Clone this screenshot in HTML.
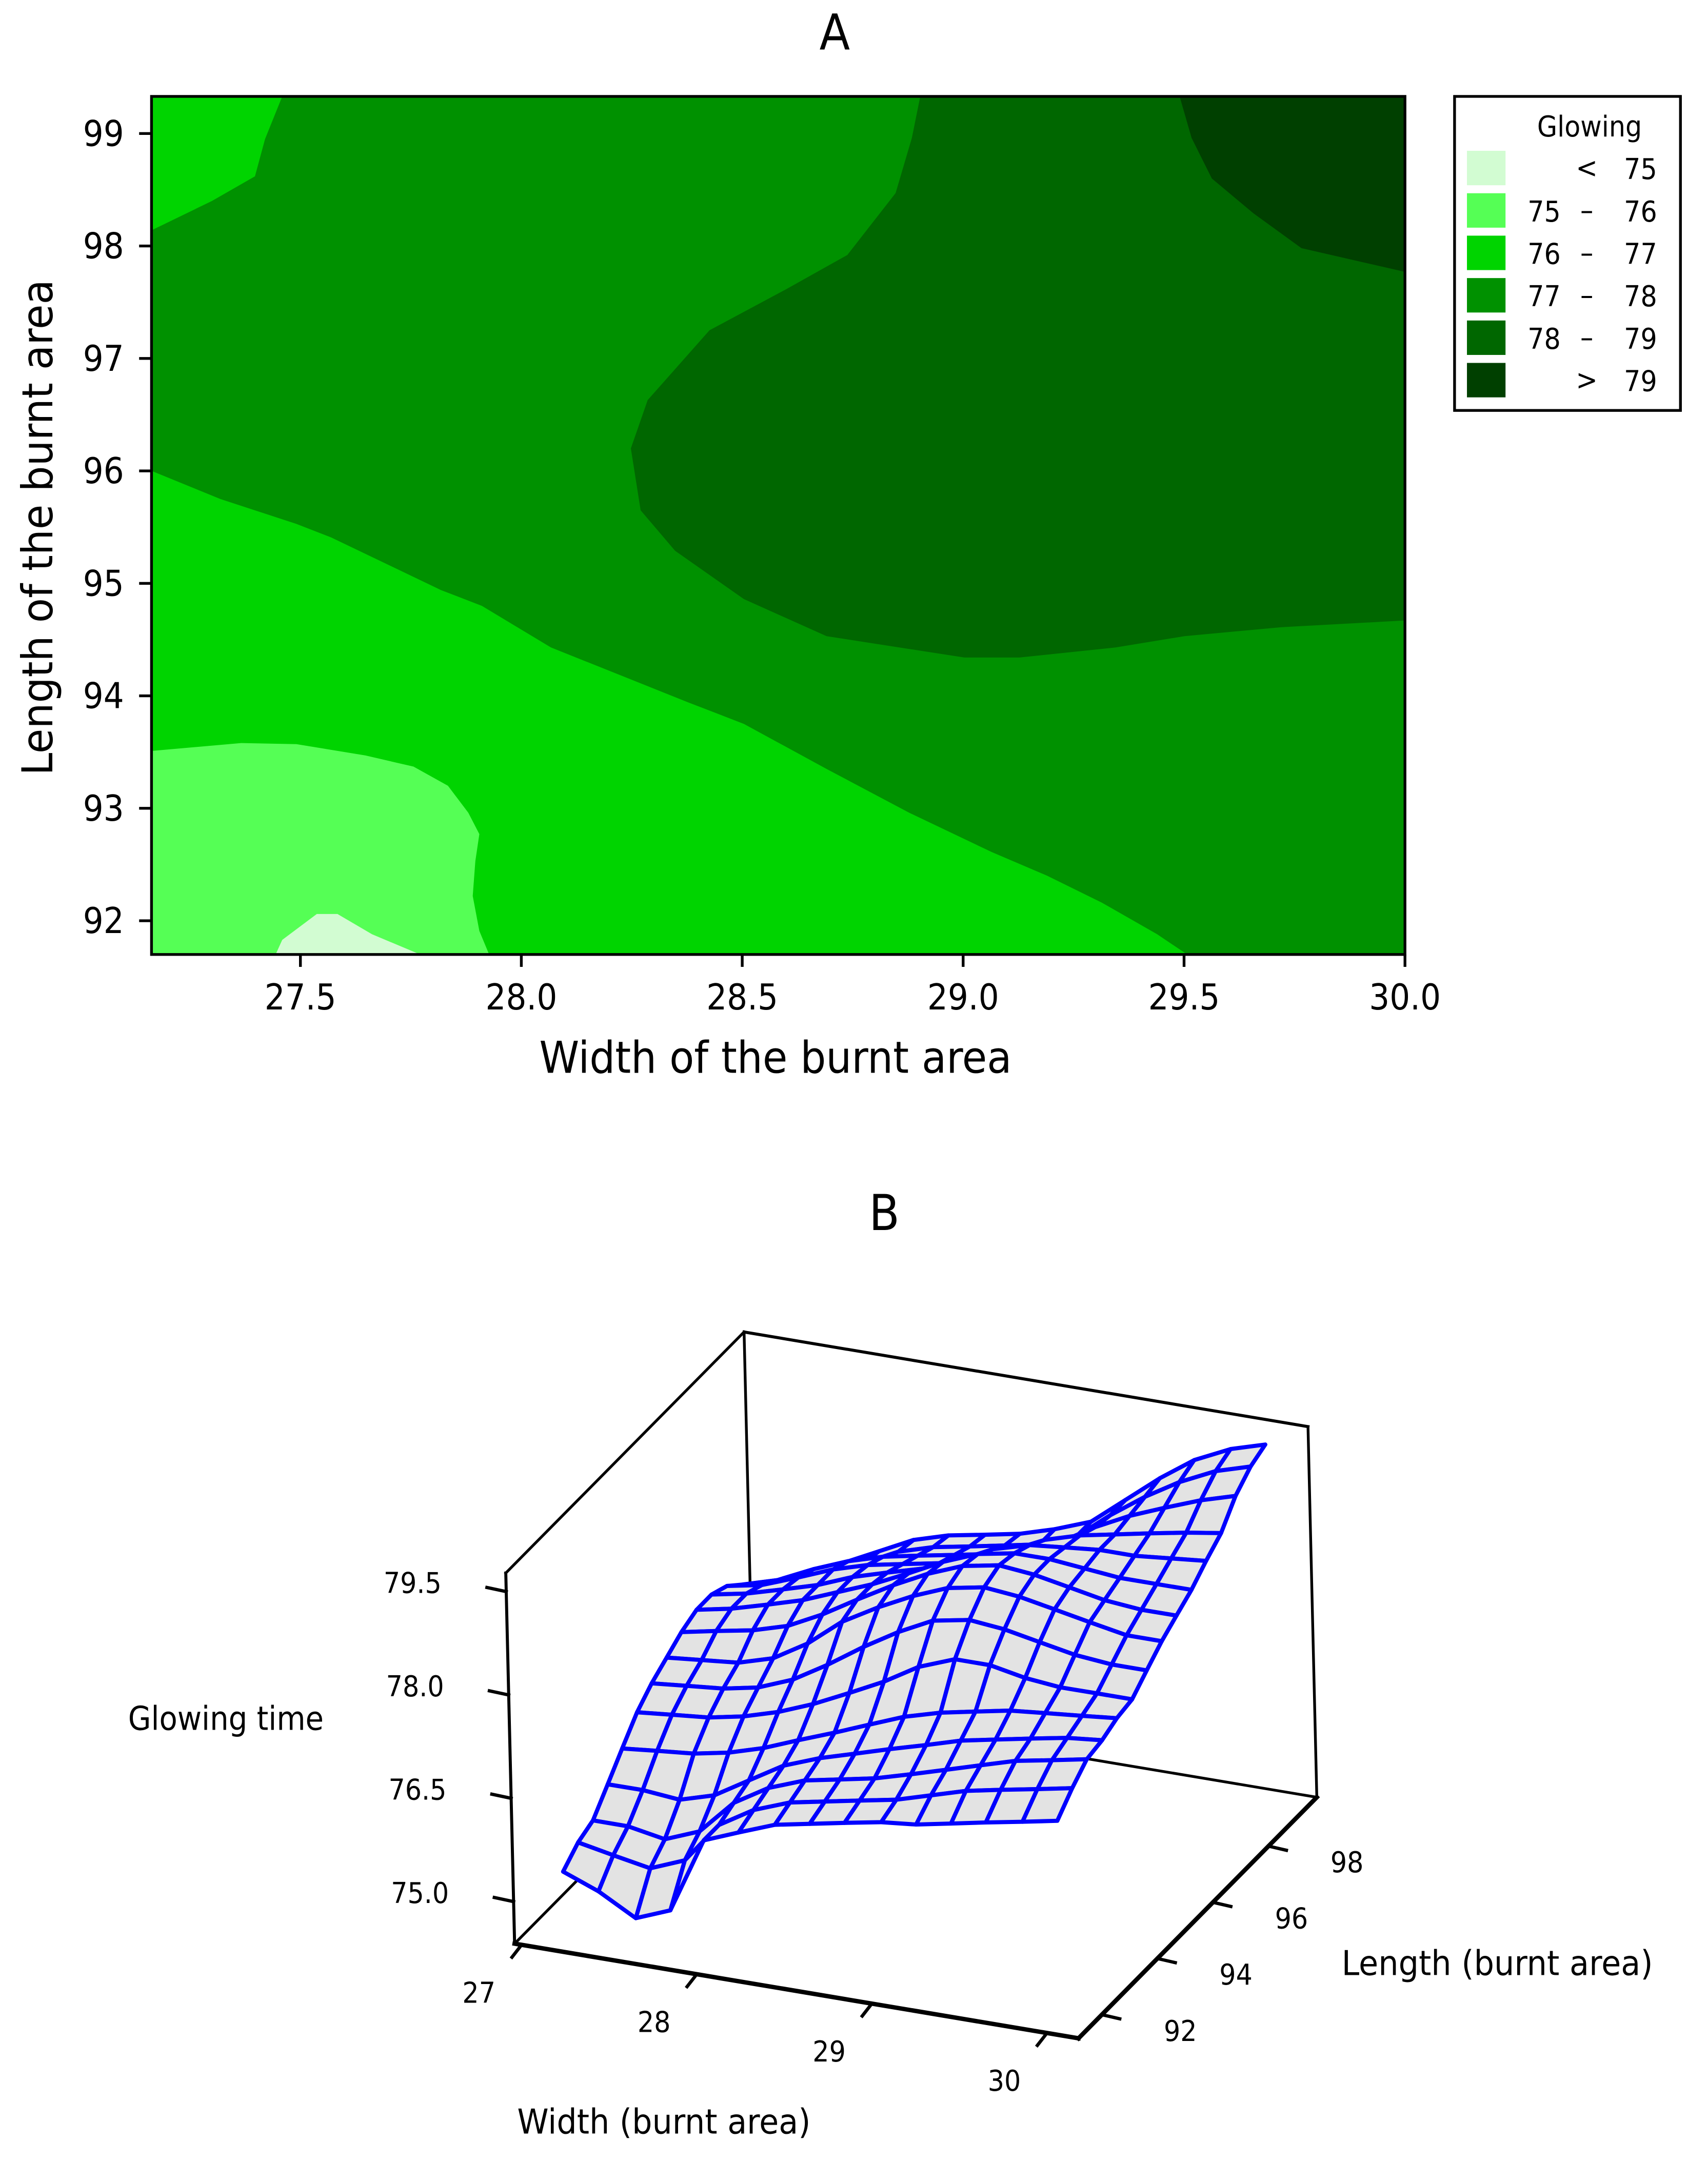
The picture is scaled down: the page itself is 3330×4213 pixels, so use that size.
<!DOCTYPE html>
<html><head><meta charset="utf-8"><style>
html,body{margin:0;padding:0;background:#fff;}
svg{display:block;}
text{font-family:"DejaVu Sans Condensed","Liberation Sans",sans-serif;fill:#000;}
</style></head><body>
<svg id="fig" xmlns="http://www.w3.org/2000/svg" width="3330" height="4213" viewBox="0 0 1240 1569" preserveAspectRatio="none">
<rect x="0" y="0" width="1240" height="1569" fill="#fff"/>
<g id="panelA"></g>
<g id="panelB"></g>
</svg>
<script>
const NS="http://www.w3.org/2000/svg";
// ---------- Panel A data ----------
const xTicksA=[27.5,28.0,28.5,29.0,29.5,30.0];
const xTickLabelsA=["27.5","28.0","28.5","29.0","29.5","30.0"];
const yTicksA=[92,93,94,95,96,97,98,99];
const legendLabels=[["","<","75"],["75","\u2013","76"],["76","\u2013","77"],["77","\u2013","78"],["78","\u2013","79"],["",">","79"]];
const legendColors=["#d2fcd2","#55ff55","#00d400","#009100","#006700","#004000"];
// region boundaries (width, length) in data units
const r7677TopW=[27.163,27.459,27.42,27.397,27.30,27.163];
const r7677TopL=[99.33,99.33,98.95,98.62,98.40,98.14];
const r7879W=[28.903,28.884,28.847,28.738,28.597,28.426,28.286,28.248,28.270,28.348,28.504,28.691,29.003,29.127,29.345,29.501,29.719,30.0,30.0];
const r7879L=[99.33,98.96,98.47,97.92,97.61,97.25,96.63,96.20,95.65,95.29,94.86,94.53,94.34,94.34,94.43,94.53,94.61,94.67,99.33];
const r79W=[29.49,29.517,29.563,29.657,29.766,30.0,30.0];
const r79L=[99.33,98.96,98.60,98.29,97.98,97.77,99.33];
const r7677W=[27.163,27.319,27.49,27.569,27.818,27.911,28.067,28.379,28.504,28.691,28.878,29.065,29.19,29.314,29.439,29.507,27.163];
const r7677L=[96.00,95.75,95.53,95.41,94.94,94.80,94.43,93.94,93.75,93.35,92.96,92.61,92.40,92.16,91.88,91.70,91.70];
const r7576W=[27.163,27.366,27.491,27.647,27.756,27.834,27.88,27.905,27.896,27.89,27.905,27.927,27.163];
const r7576L=[93.51,93.58,93.57,93.47,93.37,93.20,92.96,92.77,92.53,92.22,91.91,91.70,91.70];
const r75W=[27.444,27.459,27.537,27.584,27.662,27.771];
const r75L=[91.70,91.83,92.06,92.06,91.88,91.70];

// ---------- Panel B data ----------
const gridWidths=[27.16,27.36,27.57,27.77,27.97,28.17,28.38,28.58,28.78,28.99,29.19,29.39,29.59,29.80,30.0];
const gridLengths=[91.70,92.25,92.79,93.34,93.88,94.43,94.97,95.52,96.06,96.61,97.15,97.70,98.24,98.79,99.33];
const z00=[75.3,75.1,74.8,75.0,76.1,76.3,76.5,76.6,76.7,76.8,76.85,76.95,77.05,77.15,77.25];
const z01=[75.5,75.4,75.3,75.5,76.1,76.4,76.6,76.7,76.8,76.9,77.05,77.2,77.3,77.4,77.5];
const z02=[75.6,75.6,75.5,75.7,76.2,76.5,76.7,76.8,76.9,77.05,77.2,77.35,77.5,77.6,77.7];
const z03=[75.9,75.9,75.85,76.0,76.3,76.6,76.8,76.95,77.1,77.25,77.4,77.5,77.6,77.7,77.75];
const z04=[76.2,76.25,76.3,76.4,76.55,76.75,76.95,77.15,77.35,77.5,77.6,77.7,77.75,77.8,77.85];
const z05=[76.5,76.55,76.6,76.7,76.85,77.05,77.3,77.55,77.85,78.05,78.05,77.95,77.9,77.9,77.9];
const z06=[76.7,76.75,76.8,76.9,77.1,77.4,77.75,78.05,78.3,78.4,78.35,78.25,78.15,78.1,78.1];
const z07=[76.85,76.9,76.95,77.1,77.4,77.8,78.1,78.35,78.55,78.65,78.6,78.5,78.4,78.3,78.3];
const z08=[77.0,77.1,77.2,77.35,77.6,77.9,78.2,78.45,78.65,78.75,78.7,78.6,78.5,78.45,78.45];
const z09=[77.1,77.2,77.35,77.5,77.7,77.9,78.15,78.4,78.6,78.7,78.7,78.65,78.6,78.6,78.6];
const z10=[77.1,77.2,77.35,77.5,77.7,77.85,78.0,78.2,78.45,78.6,78.65,78.7,78.7,78.75,78.8];
const z11=[77.0,77.1,77.3,77.5,77.65,77.75,77.85,77.95,78.2,78.45,78.6,78.7,78.8,78.9,78.98];
const z12=[76.8,76.95,77.2,77.4,77.55,77.65,77.75,77.85,77.95,78.2,78.5,78.75,78.95,79.15,79.3];
const z13=[76.6,76.7,76.9,77.15,77.4,77.55,77.65,77.75,77.85,78.05,78.45,78.8,79.1,79.35,79.5];
const z14=[76.4,76.55,76.85,77.1,77.35,77.5,77.6,77.7,77.85,78.05,78.45,78.85,79.2,79.45,79.6];
const zRows=[z00,z01,z02,z03,z04,z05,z06,z07,z08,z09,z10,z11,z12,z13,z14];
const zTicks=[75.0,76.5,78.0,79.5];
const zTickLabels=["75.0","76.5","78.0","79.5"];
const wTicks=[27,28,29,30];
const lTicks=[92,94,96,98];

function mk(parent,tag,attrs,txt){const e=document.createElementNS(NS,tag);for(const k in attrs)e.setAttribute(k,attrs[k]);if(txt!==undefined)e.textContent=txt;parent.appendChild(e);return e;}

// ---------- Panel A ----------
const A=document.getElementById('panelA');
const W_MIN=27.163,W_MAX=30.0,L_MIN=91.70,L_MAX=99.33;
const PX0=110,PX1=1020,PY0=70,PY1=693;
function xA(w){return PX0+(w-W_MIN)/(W_MAX-W_MIN)*(PX1-PX0);}
function yA(l){return PY1-(l-L_MIN)/(L_MAX-L_MIN)*(PY1-PY0);}
let e;
e=mk(A,'text',{x:606,y:36,'font-size':36,'text-anchor':'middle'},'A');


e=mk(A,'rect',{x:xA(W_MIN),y:yA(L_MAX),width:xA(W_MAX)-xA(W_MIN),height:yA(L_MIN)-yA(L_MAX),fill:legendColors[3]});


function region(ws,ls,col,name){
  const pts=ws.map((w,i)=>xA(w).toFixed(1)+','+yA(ls[i]).toFixed(1)).join(' ');
  const p=mk(A,'polygon',{points:pts,fill:col});
  
  
}
region(r7677TopW,r7677TopL,legendColors[2],'region-76-77-top');
region(r7879W,r7879L,legendColors[4],'region-78-79');
region(r79W,r79L,legendColors[5],'region-above-79');
region(r7677W,r7677L,legendColors[2],'region-76-77');
region(r7576W,r7576L,legendColors[1],'region-75-76');
region(r75W,r75L,legendColors[0],'region-below-75');
e=mk(A,'rect',{x:PX0,y:PY0,width:PX1-PX0,height:PY1-PY0,fill:'none',stroke:'#000','stroke-width':2});


xTicksA.forEach((v,i)=>{
  const t=mk(A,'line',{x1:xA(v),x2:xA(v),y1:PY1,y2:PY1+9,stroke:'#000','stroke-width':2});
  
  
  const l=mk(A,'text',{x:xA(v),y:PY1+40,'font-size':26,'text-anchor':'middle'},xTickLabelsA[i]);
  
  
});
yTicksA.forEach(v=>{
  const t=mk(A,'line',{x1:PX0-9,x2:PX0,y1:yA(v),y2:yA(v),stroke:'#000','stroke-width':2});
  
  
  const l=mk(A,'text',{x:PX0-20,y:yA(v)+9,'font-size':26,'text-anchor':'end'},String(v));
  
  
});
e=mk(A,'text',{x:563,y:779,'font-size':32,'text-anchor':'middle',textLength:343,lengthAdjust:'spacingAndGlyphs'},'Width of the burnt area');


e=mk(A,'text',{x:0,y:0,'font-size':31,'text-anchor':'middle',textLength:360,lengthAdjust:'spacingAndGlyphs',transform:'translate(38,383) rotate(-90)',style:'font-family:"DejaVu Sans","Liberation Sans",sans-serif'},'Length of the burnt area');


// legend
const Lg=mk(A,'g',{});


e=mk(Lg,'rect',{x:1056,y:70,width:164,height:228,fill:'#fff',stroke:'#000','stroke-width':2});


e=mk(Lg,'text',{x:1154,y:99,'font-size':21,'text-anchor':'middle'},'Glowing');


legendLabels.forEach((lab,i)=>{
  const cy=122+i*30.8;
  const s=mk(Lg,'rect',{x:1065,y:cy-12.5,width:28,height:25,fill:legendColors[i]});
  
  
  if(lab[0]){const t=mk(Lg,'text',{x:1109,y:cy+8,'font-size':21},lab[0]);
    
    }
  const m=mk(Lg,'text',{x:1152,y:cy+7,'font-size':21,'text-anchor':'middle'},lab[1]);
  
  
  const t2=mk(Lg,'text',{x:1179,y:cy+8,'font-size':21},lab[2]);
  
  
});

// ---------- Panel B ----------
const B=document.getElementById('panelB');
const WB0=26.96,WB1=30.18,LB0=91.16,LB1=99.74,ZB0=74.39,ZB1=79.77;
const O=[373.6,1411.2],VA=[409.4,68.7],VB=[173,-175],VC=[-6.4,-269.1];
function P(w,l,z){const fw=(w-WB0)/(WB1-WB0),fl=(l-LB0)/(LB1-LB0),fz=(z-ZB0)/(ZB1-ZB0);
  return [O[0]+VA[0]*fw+VB[0]*fl+VC[0]*fz,O[1]+VA[1]*fw+VB[1]*fl+VC[1]*fz];}
function floorY(w,l){return P(w,l,ZB0)[1];}
function line(p,q,sw,name){const l=mk(B,'line',{x1:p[0],y1:p[1],x2:q[0],y2:q[1],stroke:'#000','stroke-width':sw,'stroke-linecap':'square'});
  
  return l;}
e=mk(B,'text',{x:642,y:893,'font-size':36,'text-anchor':'middle'},'B');


const FLB=P(WB0,LB0,ZB0),FLT=P(WB0,LB0,ZB1),BLB=P(WB0,LB1,ZB0),BLT=P(WB0,LB1,ZB1),
      BRB=P(WB1,LB1,ZB0),BRT=P(WB1,LB1,ZB1),FRB=P(WB1,LB0,ZB0);
line(FLT,BLT,2,'box-top-left-edge');
line(BLT,BLB,2,'box-back-vertical');
line(BLT,BRT,2.2,'box-back-top-edge');
line(BRT,BRB,2,'box-right-vertical');
line(BRB,BLB,2,'box-floor-back-edge');
line(BLB,FLB,2,'box-floor-left-edge');
// surface quads
const quads=[];
for(let i=0;i<gridLengths.length-1;i++)for(let j=0;j<gridWidths.length-1;j++){
  const wc=(gridWidths[j]+gridWidths[j+1])/2,lc=(gridLengths[i]+gridLengths[i+1])/2;
  quads.push({i,j,d:floorY(wc,lc)});
}
quads.sort((a,b)=>a.d-b.d);
quads.forEach(q=>{
  const {i,j}=q;
  const c=[P(gridWidths[j],gridLengths[i],zRows[i][j]),P(gridWidths[j+1],gridLengths[i],zRows[i][j+1]),
           P(gridWidths[j+1],gridLengths[i+1],zRows[i+1][j+1]),P(gridWidths[j],gridLengths[i+1],zRows[i+1][j])];
  const p=mk(B,'polygon',{points:c.map(v=>v[0].toFixed(1)+','+v[1].toFixed(1)).join(' '),fill:'#e3e3e3',stroke:'#0000ff','stroke-width':3,'stroke-linejoin':'round'});
  
  
});
line(FLB,FLT,2.2,'z-axis-line');
line(FLB,FRB,3.2,'width-axis-line');
line(FRB,BRB,3.2,'length-axis-line');
zTicks.forEach((v,i)=>{
  const p=P(WB0,LB0,v);
  line([p[0]-14,p[1]-3],p,2.4,'z-tick');
  const t=mk(B,'text',{x:p[0]-68,y:p[1]+1,'font-size':21,'text-anchor':'middle'},zTickLabels[i]);
  
  
});
wTicks.forEach(v=>{
  const p=P(v,LB0,ZB0);
  line(p,[p[0]-7,p[1]+9],2.4,'width-tick');
  const t=mk(B,'text',{x:p[0]-31,y:p[1]+42,'font-size':21,'text-anchor':'middle'},String(v));
  
  
});
lTicks.forEach(v=>{
  const p=P(WB1,v,ZB0);
  line(p,[p[0]+13,p[1]+3],2.4,'length-tick');
  const t=mk(B,'text',{x:p[0]+57,y:p[1]+19,'font-size':21,'text-anchor':'middle'},String(v));
  
  
});
e=mk(B,'text',{x:164,y:1256,'font-size':24,'text-anchor':'middle',textLength:142,lengthAdjust:'spacingAndGlyphs'},'Glowing time');


e=mk(B,'text',{x:482,y:1549,'font-size':25,'text-anchor':'middle',textLength:213,lengthAdjust:'spacingAndGlyphs'},'Width (burnt area)');


e=mk(B,'text',{x:1087,y:1434,'font-size':25,'text-anchor':'middle',textLength:226,lengthAdjust:'spacingAndGlyphs'},'Length (burnt area)');


</script>
</body></html>
